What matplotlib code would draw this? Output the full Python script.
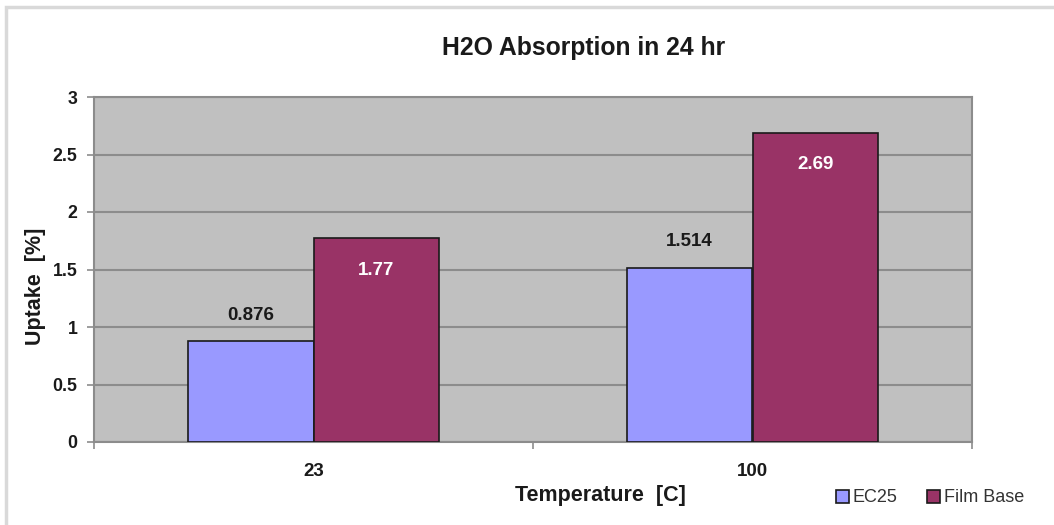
import matplotlib
matplotlib.use("Agg")
import matplotlib.pyplot as plt
from matplotlib.patches import Rectangle
import numpy as np

categories = ["23", "100"]
ec25 = [0.876, 1.514]
film_base = [1.77, 2.69]
series_names = ["EC25", "Film Base"]
yticks = [0, 0.5, 1, 1.5, 2, 2.5, 3]
ytick_labels = ["0", "0.5", "1", "1.5", "2", "2.5", "3"]

plt.rcParams['font.family'] = ['Liberation Sans', 'DejaVu Sans']

W, H = 1054, 525
fig = plt.figure(figsize=(W/100, H/100), dpi=100)
fig.patch.set_facecolor("white")
# outer chart border
fig.add_artist(Rectangle((6/W, -0.05), 1.2, (H-7)/H + 0.05, transform=fig.transFigure,
                         fill=False, edgecolor="#d9d9d9", linewidth=2.5))

ax = fig.add_axes([94/W, 1-442/H, (972-94)/W, (442-97)/H])
ax.set_facecolor("#c0c0c0")
x = np.arange(len(categories))
w = 0.286
b1 = ax.bar(x - w/2, ec25, w, color="#9999ff", edgecolor="#1a1a1a", linewidth=1.2, label=series_names[0], zorder=3)
b2 = ax.bar(x + w/2, film_base, w, color="#993366", edgecolor="#1a1a1a", linewidth=1.2, label=series_names[1], zorder=3)

for rect, v in zip(b1, ec25):
    ax.text(rect.get_x() + rect.get_width()/2, v + 0.226, f"{v:g}", ha="center", va="center",
            fontsize=13.5, fontweight="bold", color="#1a1a1a")
for rect, v in zip(b2, film_base):
    ax.text(rect.get_x() + rect.get_width()/2, v - 0.275, f"{v:g}", ha="center", va="center",
            fontsize=13.5, fontweight="bold", color="white")

ax.set_xlim(-0.5, 1.5)
ax.set_ylim(0, 3)
ax.set_yticks(yticks)
ax.set_yticklabels(ytick_labels, fontsize=12.8, fontweight="bold", color="#1a1a1a")
ax.yaxis.grid(True, color="#8c8c8c", linewidth=1.5, zorder=0)
ax.set_axisbelow(True)
ax.set_xticks(x)
ax.set_xticklabels(categories, fontsize=13.5, fontweight="bold", color="#1a1a1a")
ax.set_xticks([-0.5, 0.5, 1.5], minor=True)
ax.tick_params(axis="x", which="major", length=0, pad=15)
ax.tick_params(axis="x", which="minor", length=5, color="#8c8c8c", width=1.2)
ax.tick_params(axis="y", length=5, color="#8c8c8c", width=1.2, pad=7)
for s in ax.spines.values():
    s.set_color("#8c8c8c")
    s.set_linewidth(1.5)

fig.text(35/W, 1-286/H, "Uptake  [%]", rotation=90, ha="center", va="center",
         fontsize=15.5, fontweight="bold", color="#1a1a1a")
fig.text(600/W, 1-495/H, "Temperature  [C]", ha="center", va="center",
         fontsize=15.5, fontweight="bold", color="#1a1a1a")
fig.text(584/W, 1-48/H, "H2O Absorption in 24 hr", ha="center", va="center",
         fontsize=17.8, fontweight="bold", color="#1a1a1a")

leg = fig.legend(handles=[b1, b2], labels=series_names, loc="center", bbox_to_anchor=(930/W, 1-498/H),
                 ncol=2, frameon=False, fontsize=13, handlelength=0.75, handleheight=0.75,
                 handletextpad=0.2, columnspacing=1.6, labelcolor="#333333", borderpad=0)

fig.savefig("out.png", dpi=100)
